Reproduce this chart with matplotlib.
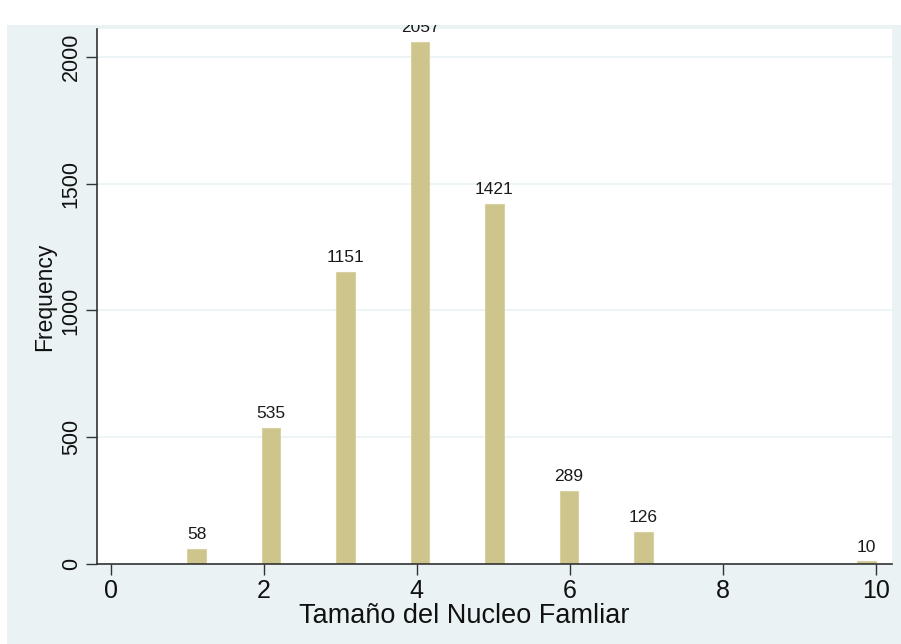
import matplotlib

matplotlib.use("Agg")
import matplotlib.pyplot as plt
from matplotlib.patches import Rectangle

# household size and how many records have it
household_size = [1, 2, 3, 4, 5, 6, 7, 10]
frequency = [58, 535, 1151, 2057, 1421, 289, 126, 10]
n_bins = 37
x_ticks = [0, 2, 4, 6, 8, 10]
y_ticks = [0, 500, 1000, 1500, 2000]

plt.rcParams["font.family"] = ["Liberation Sans", "DejaVu Sans"]

BG = "#EAF2F3"
BAR = "#CDC58B"

fig = plt.figure(figsize=(9.01, 6.44), dpi=100, facecolor="white")
# stata-like outer panel
fig.add_artist(Rectangle((0.0078, 0.0), 0.9922, 0.961, transform=fig.transFigure,
                         facecolor=BG, edgecolor="none", zorder=-1))

ax = fig.add_axes([0.1077, 0.1242, 0.8823, 0.8308])
ax.set_facecolor("white")

counts, edges, bars = ax.hist(household_size, bins=n_bins, range=(1, 10), weights=frequency,
                              color=BAR, edgecolor="#D8D1A3", linewidth=0.8, zorder=2)
labels = [f"{int(c)}" if c > 0 else "" for c in counts]
ax.bar_label(bars, labels=labels, padding=5, fontsize=12.5, color="#1a1a1a")

ax.set_xlim(-0.18, 10.21)
ax.set_ylim(0, 2110)
ax.set_xticks(x_ticks)
ax.set_yticks(y_ticks)
ax.set_yticklabels([str(t) for t in y_ticks], rotation=90, va="center")
ax.tick_params(axis="both", length=8, width=1, color="#333333", labelcolor="#111111")
ax.tick_params(axis="y", labelsize=15.5, pad=3)
ax.tick_params(axis="x", labelsize=18, pad=3)
ax.grid(axis="y", color=BG, linewidth=1.2, zorder=0)
ax.set_axisbelow(True)

for side in ("top", "right"):
    ax.spines[side].set_visible(False)
for side in ("left", "bottom"):
    ax.spines[side].set_color("#333333")
    ax.spines[side].set_linewidth(1.2)

ax.set_xlabel("Tamaño del Nucleo Famliar", fontsize=19.5, color="#111111")
ax.xaxis.set_label_coords(0.462, -0.073)
ax.set_ylabel("Frequency", fontsize=16.5, labelpad=3, color="#111111")

# top strip of the screenshot hides part of the tallest label
fig.add_artist(Rectangle((0, 0.961), 1, 0.039, transform=fig.transFigure,
                         facecolor="white", edgecolor="none", zorder=5))

fig.savefig("out.png", dpi=100, facecolor="white")
